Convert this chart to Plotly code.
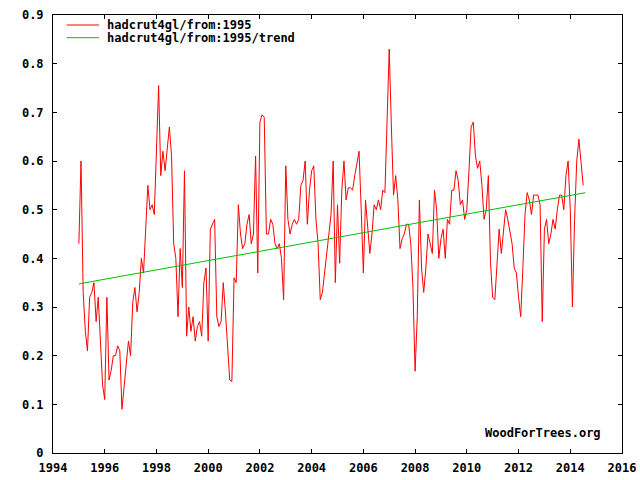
import numpy as np
import plotly.graph_objects as go

# hadcrut4 global monthly anomaly, Jan 1995 onwards
start_year = 1995
anomaly = [
    0.43, 0.60, 0.33, 0.25, 0.21, 0.32, 0.33, 0.35, 0.27, 0.32, 0.23, 0.14,      # 1995
    0.11, 0.32, 0.15, 0.17, 0.20, 0.20, 0.22, 0.21, 0.09, 0.14, 0.19, 0.23,      # 1996
    0.20, 0.31, 0.34, 0.29, 0.33, 0.40, 0.37, 0.45, 0.55, 0.50, 0.51, 0.49,      # 1997
    0.62, 0.755, 0.57, 0.62, 0.58, 0.63, 0.67, 0.61, 0.43, 0.40, 0.28, 0.42,     # 1998
    0.34, 0.58, 0.24, 0.30, 0.25, 0.28, 0.23, 0.26, 0.27, 0.24, 0.35, 0.38,      # 1999
    0.23, 0.46, 0.47, 0.48, 0.28, 0.26, 0.27, 0.35, 0.29, 0.21, 0.15, 0.147,     # 2000
    0.36, 0.35, 0.51, 0.45, 0.42, 0.43, 0.47, 0.49, 0.43, 0.45, 0.61, 0.37,      # 2001
    0.68, 0.695, 0.69, 0.45, 0.45, 0.48, 0.47, 0.43, 0.42, 0.43, 0.40, 0.315,    # 2002
    0.59, 0.48, 0.45, 0.47, 0.48, 0.47, 0.48, 0.55, 0.56, 0.60, 0.47, 0.54,      # 2003
    0.58, 0.59, 0.48, 0.43, 0.315, 0.33, 0.37, 0.42, 0.46, 0.49, 0.60, 0.35,     # 2004
    0.51, 0.39, 0.54, 0.60, 0.52, 0.545, 0.545, 0.54, 0.57, 0.60, 0.62, 0.50,    # 2005
    0.37, 0.52, 0.47, 0.41, 0.45, 0.51, 0.50, 0.52, 0.50, 0.54, 0.535, 0.68,     # 2006
    0.83, 0.67, 0.53, 0.57, 0.52, 0.42, 0.44, 0.45, 0.47, 0.47, 0.43, 0.34,      # 2007
    0.168, 0.28, 0.52, 0.38, 0.33, 0.38, 0.45, 0.43, 0.41, 0.54, 0.50, 0.40,     # 2008
    0.44, 0.46, 0.40, 0.48, 0.47, 0.54, 0.54, 0.58, 0.56, 0.51, 0.52, 0.48,      # 2009
    0.50, 0.58, 0.67, 0.68, 0.61, 0.585, 0.60, 0.55, 0.48, 0.50, 0.57, 0.39,     # 2010
    0.32, 0.315, 0.40, 0.46, 0.41, 0.45, 0.50, 0.48, 0.45, 0.43, 0.38, 0.37,     # 2011
    0.32, 0.28, 0.38, 0.49, 0.535, 0.52, 0.49, 0.53, 0.53, 0.53, 0.51, 0.27,     # 2012
    0.46, 0.48, 0.43, 0.45, 0.48, 0.46, 0.50, 0.53, 0.53, 0.50, 0.57, 0.60,      # 2013
    0.50, 0.30, 0.48, 0.60, 0.645, 0.60, 0.55,                                   # 2014
]
series_name = "hadcrut4gl/from:1995"
trend_name = "hadcrut4gl/from:1995/trend"
credit = "WoodForTrees.org"

x_ticks = list(range(1994, 2017, 2))
y_ticks = [0, 0.1, 0.2, 0.3, 0.4, 0.5, 0.6, 0.7, 0.8, 0.9]

t = start_year + np.arange(len(anomaly)) / 12.0
y = np.array(anomaly)

# least squares trend, like woodfortrees does (runs to the end of the last month)
slope, intercept = np.polyfit(t, y, 1)
t_trend = np.array([t[0], t[-1] + 1 / 12.0])
y_trend = slope * t_trend + intercept

font = dict(family="DejaVu Sans Mono", size=12, color="black", weight="bold")
red = "#ff0000"
green = "#00c000"

fig = go.Figure()
fig.add_trace(go.Scatter(x=t, y=y, mode="lines", name=series_name,
                         line=dict(color=red, width=1), showlegend=False))
fig.add_trace(go.Scatter(x=t_trend, y=y_trend, mode="lines", name=trend_name,
                         line=dict(color=green, width=1), showlegend=False))

axis_style = dict(showline=True, linecolor="black", linewidth=1, mirror="ticks",
                  ticks="inside", ticklen=4, tickcolor="black", tickwidth=1,
                  showgrid=False, zeroline=False, tickfont=font, automargin=False)

fig.update_xaxes(range=[1994, 2016], tickvals=x_ticks, ticklabelstandoff=4, **axis_style)
fig.update_yaxes(range=[0, 0.9], tickvals=y_ticks, ticklabelstandoff=6, **axis_style)

# gnuplot style key, top left inside the frame
key_rows = [(series_name, red, 0.9772), (trend_name, green, 0.9482)]
for label, colour, ky in key_rows:
    fig.add_shape(type="line", xref="paper", yref="paper",
                  x0=0.0241, x1=0.0808, y0=ky, y1=ky,
                  line=dict(color=colour, width=1))
    fig.add_annotation(text=label, xref="paper", yref="paper",
                       x=0.0914, y=ky, xanchor="left", yanchor="middle",
                       showarrow=False, font=font)

fig.add_annotation(text=credit, xref="paper", yref="paper",
                   x=0.9666, y=0.046, xanchor="right", yanchor="middle",
                   showarrow=False, font=font)

fig.update_layout(
    width=640, height=480,
    margin=dict(l=53, r=18, t=15, b=27),
    paper_bgcolor="white", plot_bgcolor="white",
    font=font,
    showlegend=False,
)

# page body has a default 8px margin, drop it so the chart sits at 0,0
fig.write_html("out.html", config={"displayModeBar": False},
               post_script="document.body.style.margin='0px';")
